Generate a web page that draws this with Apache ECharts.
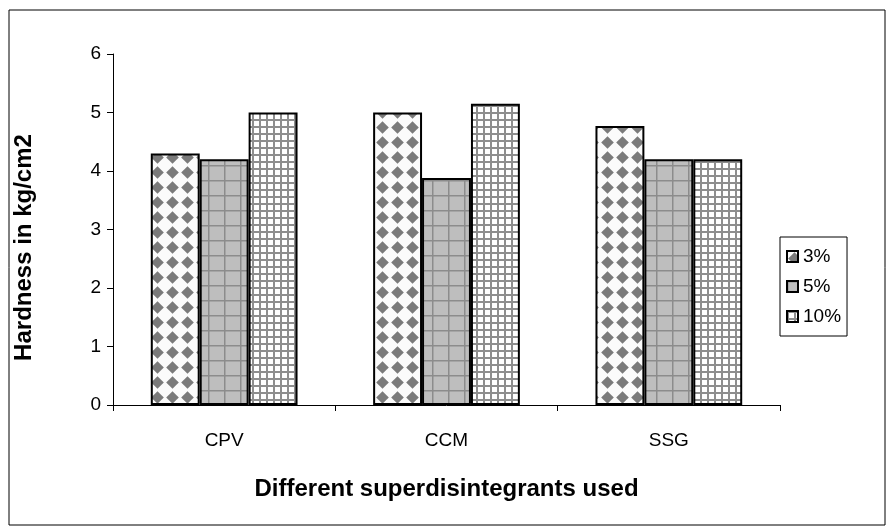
<!DOCTYPE html>
<html>
<head>
<meta charset="utf-8">
<script src="https://cdn.jsdelivr.net/npm/echarts@6/dist/echarts.min.js"></script>
<style>
  html, body { margin: 0; padding: 0; background: #fff; }
  #main { width: 886px; height: 526px; }
</style>
</head>
<body>
<div id="main"></div>
<script>
// data
const categories = ['CPV', 'CCM', 'SSG'];
const seriesNames = ['3%', '5%', '10%'];
const values3 = [4.3, 5.0, 4.77];
const values5 = [4.2, 3.88, 4.2];
const values10 = [5.0, 5.15, 4.2];
const yTicks = [0, 1, 2, 3, 4, 5, 6];

// fill patterns like the old excel ones
function tile(w, h, draw) {
    const c = document.createElement('canvas');
    c.width = w; c.height = h;
    draw(c.getContext('2d'), w, h);
    return { image: c, repeat: 'repeat' };
}
const diamondFill = tile(15, 15, function (ctx, w, h) {
    ctx.fillStyle = '#fbfbfb';
    ctx.fillRect(0, 0, w, h);
    ctx.fillStyle = '#7a7a7a';
    ctx.beginPath();
    ctx.moveTo(7.5, 1.2); ctx.lineTo(13.8, 7.5); ctx.lineTo(7.5, 13.8); ctx.lineTo(1.2, 7.5);
    ctx.closePath();
    ctx.fill();
});
const grayGridFill = tile(16, 15, function (ctx, w, h) {
    ctx.fillStyle = '#bebebe';
    ctx.fillRect(0, 0, w, h);
    ctx.fillStyle = '#8c8c8c';
    ctx.fillRect(0, 0, 1.5, h);
    ctx.fillRect(0, 0, w, 1.5);
});
const fineGridFill = tile(7, 7, function (ctx, w, h) {
    ctx.fillStyle = '#ffffff';
    ctx.fillRect(0, 0, w, h);
    ctx.fillStyle = '#8e8e8e';
    ctx.fillRect(0, 0, 2, h);
    ctx.fillRect(0, 0, w, 2);
});
const fills = [diamondFill, grayGridFill, fineGridFill];
const allValues = [values3, values5, values10];

const chart = echarts.init(document.getElementById('main'));
const font = 'Liberation Sans, Arial, sans-serif';

chart.setOption({
    animation: false,
    backgroundColor: '#fff',
    graphic: [{
        type: 'rect',
        shape: { x: 9, y: 10, width: 876, height: 515 },
        style: { fill: 'none', stroke: '#000', lineWidth: 1 },
        silent: true
    }],
    grid: { left: 113, right: 106, top: 54, bottom: 121 },
    legend: {
        orient: 'vertical',
        left: 780,
        top: 237,
        itemWidth: 11,
        itemHeight: 11,
        itemGap: 11,
        padding: [10, 6, 10, 6],
        borderColor: '#000',
        borderWidth: 1,
        icon: 'rect',
        textStyle: { fontFamily: font, fontSize: 19, color: '#000' },
        data: seriesNames
    },
    xAxis: {
        type: 'category',
        data: categories,
        axisLine: { lineStyle: { color: '#000', width: 1 } },
        axisTick: { show: true, length: 6, lineStyle: { color: '#000' } },
        axisLabel: { fontFamily: font, fontSize: 19, color: '#000', margin: 26 },
        name: 'Different superdisintegrants used',
        nameLocation: 'middle',
        nameGap: 72,
        nameTextStyle: { fontFamily: font, fontSize: 24, fontWeight: 'bold', color: '#000' }
    },
    yAxis: {
        type: 'value',
        min: yTicks[0],
        max: yTicks[yTicks.length - 1],
        interval: 1,
        axisLine: { show: true, lineStyle: { color: '#000', width: 1 } },
        axisTick: { show: true, length: 6, lineStyle: { color: '#000' } },
        splitLine: { show: false },
        axisLabel: { fontFamily: font, fontSize: 19, color: '#000', margin: 12 },
        name: 'Hardness in kg/cm2',
        nameLocation: 'middle',
        nameGap: 77,
        nameTextStyle: {
            fontFamily: font, fontSize: 24, fontWeight: 'bold', color: '#000',
            padding: [0, 36, 0, 0]
        }
    },
    series: seriesNames.map(function (name, i) {
        return {
            name: name,
            type: 'bar',
            data: allValues[i],
            barGap: '0%',
            barCategoryGap: '34%',
            itemStyle: { color: fills[i], borderColor: '#000', borderWidth: 2 }
        };
    })
});
</script>
</body>
</html>
